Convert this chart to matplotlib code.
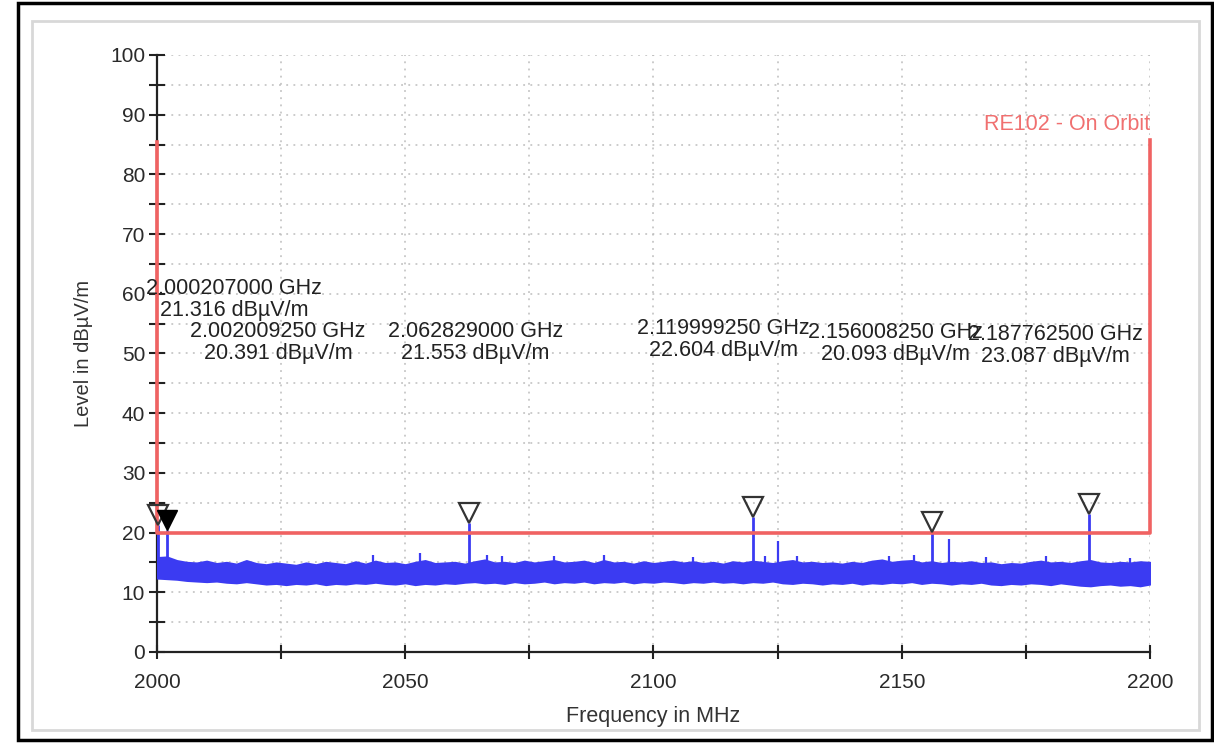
import numpy as np
import matplotlib
matplotlib.use("Agg")
import matplotlib.pyplot as plt
from matplotlib.patches import Rectangle
from matplotlib.transforms import ScaledTranslation

plt.rcParams['font.family'] = ['Liberation Sans', 'DejaVu Sans']

# noise floor envelope, sampled every 2 MHz
band_freq = np.arange(2000, 2201, 2)
band_hi = [15.8, 15.9, 15.3, 15.0, 14.9, 15.2, 14.8, 15.0, 14.7, 15.3,
           14.8, 14.6, 14.9, 14.7, 14.5, 14.9, 14.6, 15.0, 14.8, 14.6,
           15.1, 14.7, 15.2, 14.8, 14.9, 14.6, 15.0, 15.3, 14.8, 14.9,
           15.0, 14.7, 15.1, 15.4, 14.9, 15.0, 14.8, 15.2, 14.9, 15.1,
           15.3, 14.9, 15.0, 15.2, 14.8, 15.3, 14.9, 15.0, 14.7, 15.1,
           14.8, 15.0, 15.2, 14.9, 15.1, 14.8, 15.0, 14.7, 15.1, 14.9,
           15.2, 15.0, 14.8, 15.1, 15.3, 14.9, 15.0, 14.8, 14.9, 14.7,
           15.0, 14.8, 15.2, 15.4, 15.0, 15.2, 15.3, 14.9, 15.1, 14.8,
           15.0, 14.9, 15.1, 14.8, 14.9, 14.6, 14.8, 14.7, 15.0, 15.2,
           14.9, 15.0, 14.8, 15.1, 15.3, 14.9, 14.8, 15.0, 14.9, 15.1,
           15.0]
band_lo = [12.4, 12.3, 12.2, 12.0, 11.9, 11.8, 11.9, 11.7, 11.6, 11.8,
           11.6, 11.4, 11.5, 11.3, 11.5, 11.4, 11.6, 11.3, 11.5, 11.4,
           11.6, 11.5, 11.7, 11.5, 11.4, 11.6, 11.3, 11.5, 11.4, 11.6,
           11.5, 11.7, 11.8, 11.6, 11.7, 11.5, 11.8, 11.6, 11.7, 11.9,
           11.6, 11.8, 11.7, 11.9, 11.6, 11.8, 11.7, 11.9, 11.6, 11.8,
           11.7, 11.9, 11.8, 11.6, 11.8, 11.7, 11.9, 11.7, 11.8, 11.6,
           11.8, 11.7, 11.9, 11.6, 11.5, 11.7, 11.6, 11.4, 11.6, 11.5,
           11.7, 11.4, 11.6, 11.5, 11.7, 11.6, 11.8, 11.5, 11.7, 11.6,
           11.4, 11.6, 11.5, 11.7, 11.4, 11.3, 11.5, 11.4, 11.6, 11.5,
           11.3, 11.6, 11.4, 11.2, 11.1, 11.3, 11.4, 11.2, 11.3, 11.1,
           11.4]

# narrow spurs poking out of the noise floor
spur_freq = [2000.0, 2043.5, 2053.0, 2066.5, 2069.5, 2080.0, 2090.0, 2108.0,
             2122.5, 2125.1, 2129.0, 2147.5, 2152.5, 2159.5, 2167.0, 2179.0, 2196.0]
spur_top = [20.0, 16.2, 16.6, 16.3, 16.0, 16.0, 16.2, 15.9,
            16.0, 18.6, 16.1, 16.0, 16.3, 19.0, 15.9, 16.0, 15.8]

# marker readouts
mk_freq = [2000.207, 2002.00925, 2062.829, 2119.99925, 2156.00825, 2187.7625]
mk_level = [21.316, 20.391, 21.553, 22.604, 20.093, 23.087]
mk_text_x = [2015.6, 2024.4, 2064.1, 2114.0, 2148.8, 2180.9]
mk_text_y = [59.1, 51.8, 51.8, 52.3, 51.7, 51.3]
active_marker = 1

# limit line
lim_freq = [2000, 2000, 2200, 2200]
lim_level = [85.5, 20, 20, 85.8]
lim_name = "RE102 - On Orbit"

fig = plt.figure(figsize=(12.14, 7.43), dpi=100)
ax = fig.add_axes([0.1293, 0.1225, 0.818, 0.8035])

blue = '#3b3bf2'
ax.fill_between(band_freq, band_lo, band_hi, color=blue, lw=1.6, edgecolor=blue, zorder=3)
ax.vlines(spur_freq, 13.5, spur_top, color=blue, lw=1.6, zorder=3)
ax.vlines(mk_freq, 13.5, mk_level, color=blue, lw=2.0, zorder=3)

ax.plot(lim_freq, lim_level, color='#f06262', lw=2.6, clip_on=False, zorder=4)
ax.text(lim_freq[-1], 88.3, lim_name, color='#f07070', fontsize=15.5,
        ha='right', va='center')

# triangles sit with their tip on the peak
lift = ScaledTranslation(0, 7.2 / 72, fig.dpi_scale_trans)
for i, (f, v) in enumerate(zip(mk_freq, mk_level)):
    if i == active_marker:
        ax.plot(f, v, marker='v', ms=14, mfc='black', mec='black',
                transform=ax.transData + lift, clip_on=False, zorder=6)
    else:
        ax.plot(f, v, marker='v', ms=14, mfc='none', mec='#333333', mew=1.6,
                transform=ax.transData + lift, clip_on=False, zorder=5)

for f, v, tx, ty in zip(mk_freq, mk_level, mk_text_x, mk_text_y):
    ax.text(tx, ty, f"{f / 1000:.9f} GHz\n{v:.3f} dBµV/m", fontsize=15.5,
            color='#222222', ha='center', va='center', linespacing=1.05, zorder=7)

ax.set_xlim(2000, 2200)
ax.set_ylim(0, 100)
ax.set_xticks(np.arange(2000, 2201, 50))
ax.set_xticks(np.arange(2025, 2200, 50), minor=True)
ax.set_yticks(np.arange(0, 101, 10))
ax.set_yticks(np.arange(5, 100, 10), minor=True)
ax.tick_params(which='both', direction='inout', length=11, width=1.5, color='#222222')
ax.tick_params(axis='x', which='both', length=10)
ax.tick_params(axis='x', labelsize=15, labelcolor='#2a2a2a', pad=10)
ax.tick_params(axis='y', labelsize=15, labelcolor='#2a2a2a', pad=3)

ax.grid(True, which='both', color='#bdbdbd', lw=1.1, linestyle=(0, (1.2, 3.5)))
ax.set_axisbelow(True)
for s in ('top', 'right'):
    ax.spines[s].set_visible(False)
for s in ('left', 'bottom'):
    ax.spines[s].set_linewidth(1.6)
    ax.spines[s].set_color('#222222')

ax.set_xlabel("Frequency in MHz", fontsize=15.5, color='#333333', labelpad=10)
ax.set_ylabel("Level in dBµV/m", fontsize=14.5, color='#333333', labelpad=12)

# page frames
fig.patches.append(Rectangle((0.0148, 0.0034), 0.9832, 0.9919, transform=fig.transFigure,
                             fill=False, ec='black', lw=2.5))
fig.patches.append(Rectangle((0.0264, 0.0175), 0.9613, 0.9542, transform=fig.transFigure,
                             fill=False, ec='#d8d8d8', lw=2))

fig.savefig("out.png", dpi=100)
